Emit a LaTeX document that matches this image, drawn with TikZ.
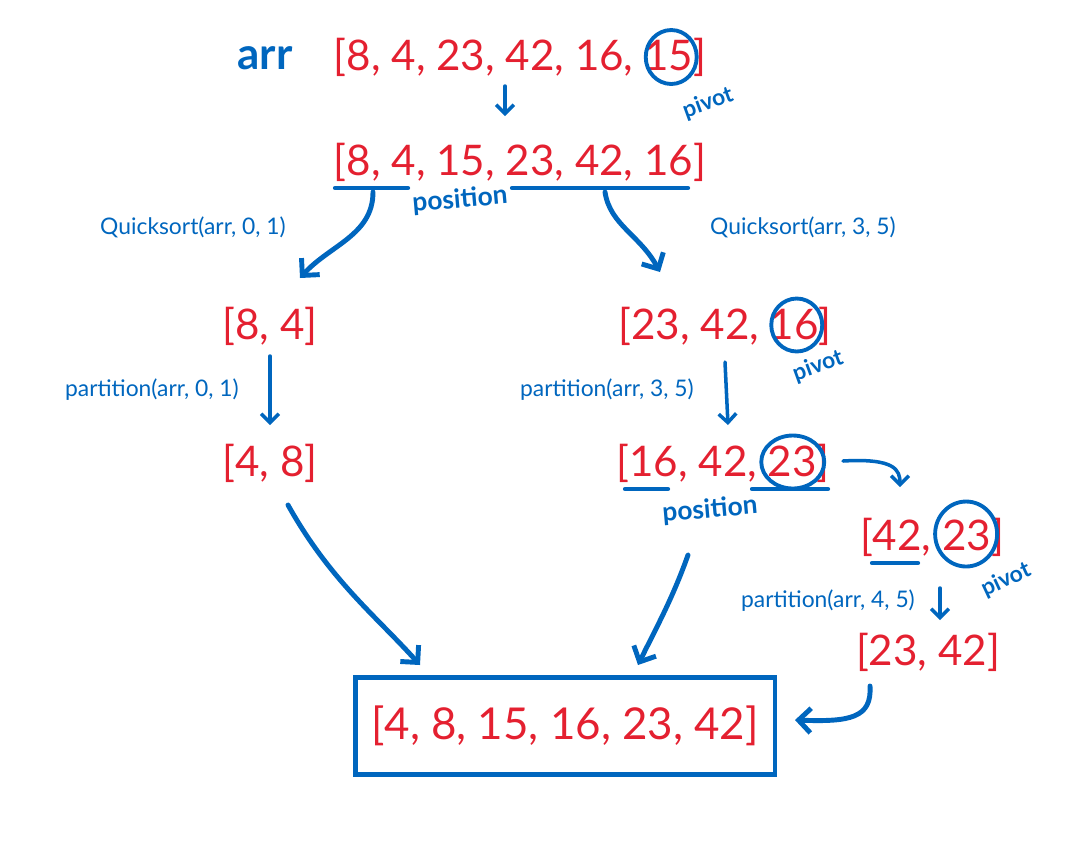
\documentclass[tikz,border=0pt]{standalone}
\usepackage{fontspec}
\setmainfont{Lato}
\usetikzlibrary{shapes,arrows.meta}
\definecolor{qs_red}{RGB}{228, 32, 48}
\definecolor{qs_blue}{RGB}{0, 102, 190}
\tikzstyle{lst}=[text=qs_red,inner sep=1pt,font=\fontsize{24}{28}\selectfont]
\tikzstyle{lbl}=[text=qs_blue,inner sep=1pt,font=\fontsize{13}{15}\selectfont]
\tikzstyle{tag}=[text=qs_blue,inner sep=1pt,font=\bfseries\fontsize{13}{15}\selectfont]
\tikzstyle{ring}=[ellipse,draw=qs_blue,line width=2.2pt,inner sep=0pt]
\tikzstyle{uline}=[draw=qs_blue,line width=2.4pt,line cap=round]
\tikzstyle{arw}=[draw=qs_blue,line width=2.8pt,line cap=round,
  -{Straight Barb[length=7pt,width=14pt,line width=2.8pt]}]
\tikzstyle{sarw}=[draw=qs_blue,line width=2pt,line cap=round,
  -{Straight Barb[length=5pt,width=10pt,line width=2pt]}]

\begin{document}
\begin{tikzpicture}[x=0.02cm,y=-0.02cm]
    \useasboundingbox (0,0) rectangle (1089,850);
    % arrays
    \node [style=tag,font=\bfseries\fontsize{25}{29}\selectfont] (name) at (265,58) {arr};
    \node [style=lst] (a0) at (520,57) {[8, 4, 23, 42, 16, 15]};
    \node [style=lst] (a1) at (520,162) {[8, 4, 15, 23, 42, 16]};
    \node [style=lst] (l1) at (270,326) {[8, 4]};
    \node [style=lst] (r1) at (725,326) {[23, 42, 16]};
    \node [style=lst] (l2) at (270,463) {[4, 8]};
    \node [style=lst] (r2) at (723,463) {[16, 42, 23]};
    \node [style=lst] (r3) at (932,537) {[42, 23]};
    \node [style=lst] (r4) at (928,652) {[23, 42]};
    \node [style=lst,font=\fontsize{25}{29}\selectfont,draw=qs_blue,line width=2.8pt,
      minimum width=8.4cm,minimum height=1.94cm] (res) at (565,726) {[4, 8, 15, 16, 23, 42]};
    % pivots
    \node [style=ring,minimum width=1.02cm,minimum height=1.08cm] at ([xshift=-0.74cm]a0.east) (p0) {};
    \node [style=ring,minimum width=1.02cm,minimum height=1.06cm] at ([xshift=-0.74cm,yshift=0.02cm]r1.east) (p1) {};
    \node [style=ring,minimum width=1.26cm,minimum height=1.06cm] at ([xshift=-0.78cm,yshift=0.02cm]r2.east) (p2) {};
    \node [style=ring,minimum width=1.24cm,minimum height=1.3cm] at ([xshift=-0.8cm,yshift=0.06cm]r3.east) (p3) {};
    \node [style=tag,rotate=20] (pv0) at (708,103) {pivot};
    \node [style=tag,rotate=20] (pv1) at (818,366) {pivot};
    \node [style=tag,rotate=25] (pv3) at (1006,580) {pivot};
    \node [style=tag,font=\bfseries\fontsize{15}{18}\selectfont,rotate=5] (ps0) at (460,200) {position};
    \node [style=tag,font=\bfseries\fontsize{15}{18}\selectfont,rotate=5] (ps1) at (710,510) {position};
    % calls
    \node [style=lbl] (c1) at (193,227) {Quicksort(arr, 0, 1)};
    \node [style=lbl] (c2) at (803,227) {Quicksort(arr, 3, 5)};
    \node [style=lbl] (c3) at (152,390) {partition(arr, 0, 1)};
    \node [style=lbl] (c4) at (607,390) {partition(arr, 3, 5)};
    \node [style=lbl] (c5) at (828,601) {partition(arr, 4, 5)};
    % underlines
    \coordinate (u1) at (335,188);
    \coordinate (u2) at (408,188);
    \coordinate (u3) at (512,188);
    \coordinate (u4) at (688,188);
    \coordinate (u5) at (625,489);
    \coordinate (u6) at (668,489);
    \coordinate (u7) at (752,489);
    \coordinate (u8) at (828,489);
    \coordinate (u9) at (872,563);
    \coordinate (u10) at (918,563);
    \draw [style=uline] (u1) to (u2);
    \draw [style=uline] (u3) to (u4);
    \draw [style=uline] (u5) to (u6);
    \draw [style=uline] (u7) to (u8);
    \draw [style=uline] (u9) to (u10);
    % arrow ends
    \coordinate (ds) at (505,86);
    \coordinate (de) at (505,116);
    \coordinate (q1s) at (373,192);
    \coordinate (q1e) at (300,278);
    \coordinate (q2s) at (605,192);
    \coordinate (q2e) at (660,272);
    \coordinate (l1s) at (270,356);
    \coordinate (l1e) at (270,425);
    \coordinate (r1s) at (725,362);
    \coordinate (r1e) at (728,425);
    \coordinate (hs) at (843,461);
    \coordinate (he) at (900,487);
    \coordinate (r3s) at (940,588);
    \coordinate (r3e) at (940,620);
    \coordinate (bs) at (870,686);
    \coordinate (be) at (795,720);
    \coordinate (ls) at (288,505);
    \coordinate (le) at (420,665);
    \coordinate (ms) at (688,555);
    \coordinate (me) at (638,665);
    \draw [style=sarw] (ds) to (de);
    \draw [style=arw] (q1s) .. controls (373,235) and (330,245) .. (q1e);
    \draw [style=arw] (q2s) .. controls (610,225) and (640,235) .. (q2e);
    \draw [style=sarw] (l1s) to (l1e);
    \draw [style=sarw] (r1s) to (r1e);
    \draw [style=sarw] (hs) .. controls (895,458) and (900,470) .. (he);
    \draw [style=sarw] (r3s) to (r3e);
    \draw [style=arw] (bs) .. controls (872,718) and (850,722) .. (be);
    \draw [style=arw] (ls) .. controls (330,580) and (375,615) .. (le);
    \draw [style=arw] (ms) .. controls (672,600) and (655,630) .. (me);
\end{tikzpicture}
\end{document}
